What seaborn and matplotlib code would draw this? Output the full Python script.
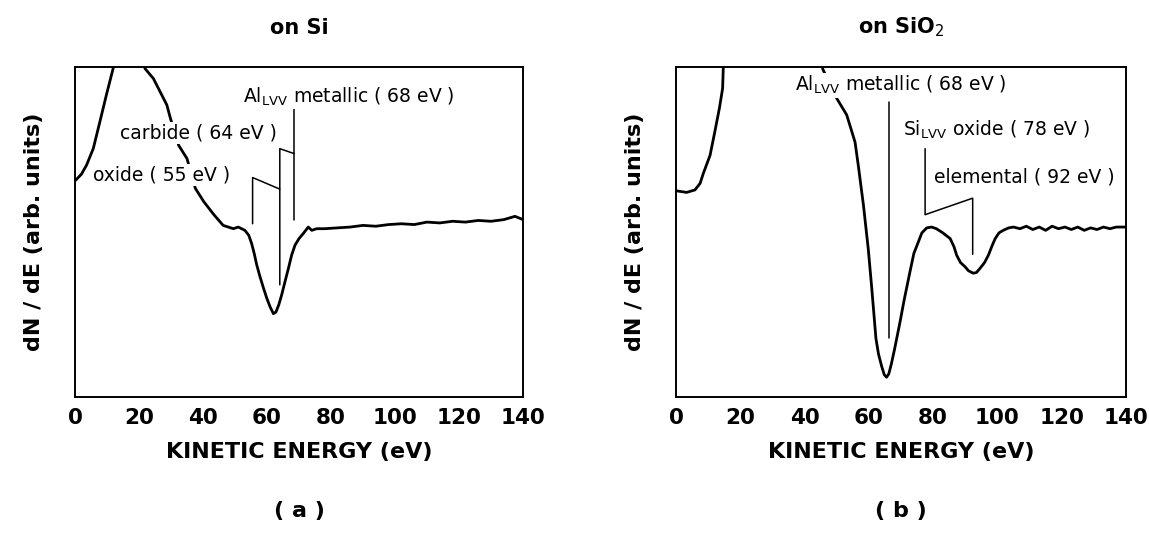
import matplotlib
matplotlib.use('Agg')
import matplotlib.pyplot as plt
import seaborn as sns
import pandas as pd

# spectrum on Si (kinetic energy in eV, dN/dE in arb. units, axis 0..4)
si_energy = [0, 2.0, 3.6, 5.7, 7.8, 9.8, 11.9, 14, 17, 20, 21.9, 24.5, 26.6, 28.7,
             29.8, 32.4, 35.0, 37.6, 40.2, 43.4, 46.3, 49.5, 51.0, 53.1, 54.3,
             55.2, 56.0, 56.8, 57.8, 58.9, 60.0, 61.0, 62.0, 62.8, 63.7, 64.6,
             65.7, 66.7, 67.7, 68.75, 70.0, 71.3, 72.9, 74.0, 75.5, 78, 82, 86,
             90, 94, 98, 102, 106, 110, 114, 118, 122, 126, 130, 134, 137.5, 140]
si_signal = [2.62, 2.70, 2.81, 3.01, 3.34, 3.66, 3.98, 4.3, 4.4, 4.2, 3.98, 3.86,
             3.70, 3.54, 3.38, 3.05, 2.89, 2.53, 2.37, 2.21, 2.08, 2.04, 2.06,
             2.02, 1.96, 1.86, 1.74, 1.60, 1.46, 1.32, 1.19, 1.09, 1.01, 1.03,
             1.12, 1.24, 1.41, 1.56, 1.72, 1.84, 1.92, 1.98, 2.06, 2.02, 2.04,
             2.04, 2.05, 2.06, 2.08, 2.07, 2.09, 2.10, 2.09, 2.12, 2.11, 2.13,
             2.12, 2.14, 2.13, 2.15, 2.19, 2.15]

# spectrum on SiO2
sio2_energy = [0, 3.3, 5.9, 7.5, 8.5, 10.6, 12.1, 13.5, 14.5, 14.8, 16, 30, 44,
               45.7, 49, 50, 53.1, 55.7, 56.7, 58.3, 59.8, 60.9, 62.2, 63.0, 64.0,
               64.8, 65.5, 66.2, 67.0, 68.0, 69.7, 71.0, 72.8, 74.0, 75.4, 76.5,
               78.0, 79.5, 81.0, 83.0, 85.3, 86.5, 87.3, 88.5, 89.9, 91.0, 92.5,
               93.5, 94.6, 96.0, 97.2, 98.3, 99.3, 100.5, 101.8, 103.5, 105, 107,
               109, 111, 113, 115, 117, 119, 121, 123, 125, 127, 129, 131, 133,
               135, 137, 140]
sio2_signal = [2.50, 2.48, 2.51, 2.59, 2.71, 2.93, 3.22, 3.50, 3.74, 4.1, 4.6, 4.8,
               4.3, 3.97, 3.70, 3.62, 3.42, 3.09, 2.81, 2.33, 1.80, 1.32, 0.71,
               0.52, 0.37, 0.27, 0.24, 0.28, 0.40, 0.58, 0.91, 1.18, 1.52, 1.74,
               1.88, 1.99, 2.05, 2.06, 2.04, 1.99, 1.92, 1.82, 1.72, 1.63, 1.58,
               1.53, 1.50, 1.51, 1.56, 1.63, 1.72, 1.83, 1.92, 1.99, 2.02, 2.05,
               2.06, 2.04, 2.07, 2.03, 2.06, 2.02, 2.07, 2.04, 2.06, 2.03, 2.06,
               2.02, 2.05, 2.03, 2.06, 2.04, 2.06, 2.06]

# peak marker lines (x, y) for each panel
si_oxide_x = [55.5, 55.5, 64.0]
si_oxide_y = [2.10, 2.66, 2.52]
si_carbide_x = [64.0, 64.0, 68.5]
si_carbide_y = [1.36, 3.01, 2.95]
si_metal_x = [68.5, 68.5]
si_metal_y = [2.15, 3.50]

sio2_metal_x = [66.4, 66.4]
sio2_metal_y = [0.71, 3.58]
sio2_bracket_x = [77.5, 77.5, 92.3, 92.3]
sio2_bracket_y = [3.01, 2.21, 2.41, 1.73]

x_ticks = [0, 20, 40, 60, 80, 100, 120, 140]
y_ticks = [1, 2, 3]

sns.set_style('white')
plt.rcParams['font.family'] = ['DejaVu Sans']
plt.rcParams['mathtext.fontset'] = 'dejavusans'
plt.rcParams['text.color'] = 'black'
plt.rcParams['axes.labelcolor'] = 'black'
plt.rcParams['xtick.color'] = 'black'
plt.rcParams['ytick.color'] = 'black'

fig = plt.figure(figsize=(11.49, 5.39), dpi=100)
ax1 = fig.add_axes([75 / 1149, 1 - 397 / 539, 448 / 1149, 330 / 539])
ax2 = fig.add_axes([676 / 1149, 1 - 397 / 539, 450 / 1149, 330 / 539])

df_si = pd.DataFrame({'E': si_energy, 'S': si_signal})
df_sio2 = pd.DataFrame({'E': sio2_energy, 'S': sio2_signal})
sns.lineplot(data=df_si, x='E', y='S', ax=ax1, color='black', lw=2.0, sort=False)
sns.lineplot(data=df_sio2, x='E', y='S', ax=ax2, color='black', lw=2.0, sort=False)

ax1.plot(si_oxide_x, si_oxide_y, color='black', lw=1.1)
ax1.plot(si_carbide_x, si_carbide_y, color='black', lw=1.1)
ax1.plot(si_metal_x, si_metal_y, color='black', lw=1.1)
ax2.plot(sio2_metal_x, sio2_metal_y, color='black', lw=1.1)
ax2.plot(sio2_bracket_x, sio2_bracket_y, color='black', lw=1.1)

box = dict(facecolor='white', edgecolor='none', pad=1.0)
txt = dict(fontsize=13.5, ha='left', va='center', bbox=box, zorder=5)
ax1.text(52.4, 3.64, r'Al$_{\mathrm{LVV}}$ metallic ( 68 eV )', **txt)
ax1.text(14.1, 3.20, 'carbide ( 64 eV )', **txt)
ax1.text(5.7, 2.69, 'oxide ( 55 eV )', **txt)
ax2.text(37.0, 3.78, r'Al$_{\mathrm{LVV}}$ metallic ( 68 eV )', **txt)
ax2.text(70.5, 3.24, r'Si$_{\mathrm{LVV}}$ oxide ( 78 eV )', **txt)
ax2.text(80.2, 2.67, 'elemental ( 92 eV )', **txt)

for ax, title, tag in [(ax1, 'on Si', '( a )'), (ax2, r'on SiO$_2$', '( b )')]:
    ax.set_xlim(0, 140)
    ax.set_ylim(0, 4)
    ax.set_xticks(x_ticks)
    ax.set_xticklabels([str(t) for t in x_ticks], fontsize=15.5, fontweight='bold')
    ax.set_yticks(y_ticks)
    ax.set_yticklabels([])
    ax.tick_params(direction='in', length=7, width=1.3, pad=8)
    for s in ax.spines.values():
        s.set_color('black')
        s.set_linewidth(1.4)
    ax.set_xlabel('KINETIC ENERGY (eV)', fontsize=16, fontweight='bold', labelpad=10)
    ax.set_ylabel('dN / dE (arb. units)', fontsize=16, fontweight='bold', labelpad=14)
    ax.set_title(title, fontsize=15, fontweight='semibold', pad=24)
    ax.text(0.5, -0.345, tag, transform=ax.transAxes, ha='center', va='center',
            fontsize=16, fontweight='semibold')

plt.savefig('out.png', dpi=100)
